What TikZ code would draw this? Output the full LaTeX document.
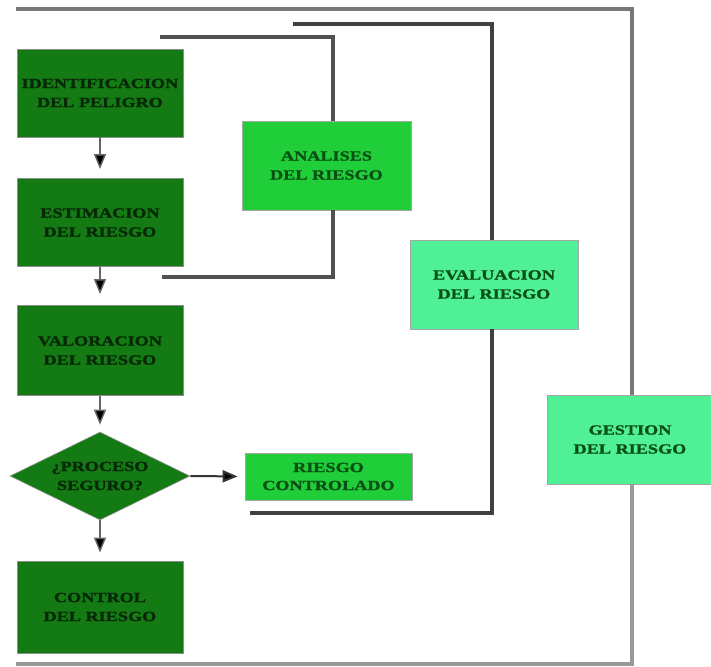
\documentclass[tikz,border=0pt]{standalone}
\usepackage{fontspec}
\newfontfamily\boxfont[FakeStretch=1.3, BoldFeatures={FakeBold=1.2}]{Liberation Serif}
\usetikzlibrary{shapes.geometric,arrows.meta}
\definecolor{darkbox}{RGB}{20,122,20}
\definecolor{midbox}{RGB}{32,206,58}
\definecolor{lightbox}{RGB}{80,240,150}
\definecolor{darktext}{RGB}{6,40,6}
\definecolor{lighttext}{RGB}{10,80,20}
\definecolor{linegray}{RGB}{80,80,80}
\definecolor{outergray}{RGB}{120,120,120}
\tikzset{
  boxtext/.style={font=\boxfont\bfseries\fontsize{14}{19}\selectfont, align=center, inner sep=0pt},
  darkstep/.style={boxtext, rectangle, fill=darkbox, draw=black!45, line width=0.8pt, text=darktext, minimum width=166pt, minimum height=88pt},
  midstep/.style={boxtext, rectangle, fill=midbox, draw=black!35, line width=0.8pt, text=lighttext},
  lightstep/.style={boxtext, rectangle, fill=lightbox, draw=black!35, line width=0.8pt, text=lighttext},
  decide/.style={boxtext, diamond, fill=darkbox, draw=black!40, line width=0.6pt, text=darktext, minimum width=180pt, minimum height=88pt, aspect=2},
  arr/.style={draw=black!60, line width=1.4pt, -{Triangle[width=12pt,length=15pt,fill=black]}},
  bracket/.style={draw=linegray, line width=3.2pt},
  outerline/.style={draw=outergray, line width=3.5pt},
}
\begin{document}
\begin{tikzpicture}[x=1pt,y=-1pt]
\useasboundingbox (0,0) rectangle (711,666);
\fill[white] (0,0) rectangle (711,666);

% left column
\node[darkstep] (ident) at (100,93) {IDENTIFICACION\\DEL PELIGRO};
\node[darkstep] (estim) at (100,222.5) {ESTIMACION\\DEL RIESGO};
\node[darkstep, minimum height=90pt] (valor) at (100,350.5) {VALORACION\\DEL RIESGO};
\node[decide] (proc) at (100,476) {¿PROCESO\\SEGURO?};
\node[darkstep, minimum height=92pt] (control) at (100,607) {CONTROL\\DEL RIESGO};

% side boxes
\node[midstep, minimum width=169pt, minimum height=89pt] (anal) at (326.5,165.5) {ANALISES\\DEL RIESGO};
\node[midstep, minimum width=167pt, minimum height=47pt, font=\boxfont\bfseries\fontsize{14}{18}\selectfont] (contr) at (328.5,476.5) {RIESGO\\CONTROLADO};
\node[lightstep, minimum width=168pt, minimum height=89pt] (evalu) at (494,284.5) {EVALUACION\\DEL RIESGO};
\node[lightstep, minimum width=166pt, minimum height=89pt] (gest) at (630,439.5) {GESTION\\DEL RIESGO};

% arrows
\draw[arr, shorten >=9pt] (ident.south) -- (estim.north);
\draw[arr, shorten >=11pt] (estim.south) -- (valor.north);
\draw[arr, shorten >=7pt] (valor.south) -- (proc.north);
\draw[arr, shorten >=8pt] (proc.south) -- (control.north);
\draw[arr, draw=black!80, line width=2pt, shorten >=7pt] (proc.east) -- (contr.west);

% inner bracket (analisis)
\coordinate (a1) at (160,37);
\coordinate (a2) at (162,277);
\draw[bracket] (a1) -| ([xshift=6.5pt]anal.north);
\draw[bracket] ([xshift=6.5pt]anal.south) |- (a2);

% middle bracket (evaluacion)
\coordinate (e1) at (293,24);
\coordinate (e2) at (250,513);
\draw[bracket, draw=black!75] (e1) -| ([xshift=-2pt]evalu.north);
\draw[bracket, draw=black!75] ([xshift=-2pt]evalu.south) |- (e2);

% outer bracket (gestion)
\coordinate (g1) at (16,9);
\coordinate (g2) at (16,664);
\draw[outerline] (g1) -| ([xshift=2pt]gest.north);
\draw[outerline, draw=black!40] ([xshift=2pt]gest.south) |- (g2);
\end{tikzpicture}
\end{document}
